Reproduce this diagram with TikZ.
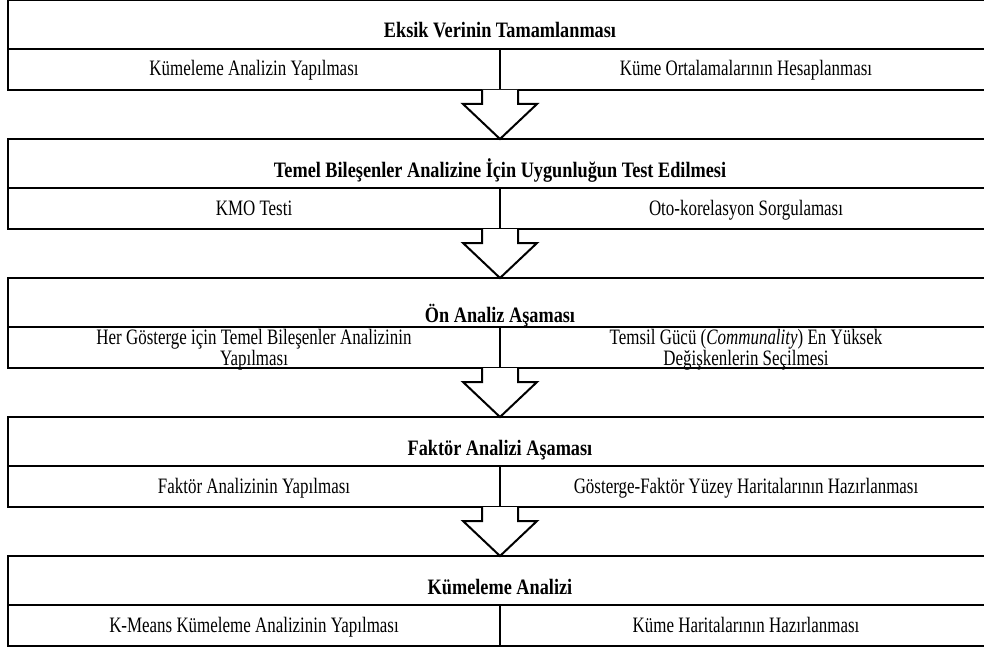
\documentclass[tikz,border=0pt]{standalone}
\usepackage{fontspec}
\setmainfont{Liberation Serif}[FakeStretch=0.77]
\newfontfamily\hdrfont{Liberation Serif}[FakeStretch=0.83]
\usetikzlibrary{calc}
\begin{document}
\begin{tikzpicture}[x=0.75pt,y=-0.75pt,
  stagebox/.style={draw=black,line width=1.8pt,minimum width=738pt,minimum height=67.5pt,inner sep=0pt,outer sep=0pt},
  divline/.style={draw=black,line width=1.2pt},
  hdr/.style={font=\hdrfont\bfseries\fontsize{16.5}{18}\selectfont,inner sep=0pt,anchor=base},
  cell/.style={font=\fontsize{16.5}{15}\selectfont,inner sep=0pt,anchor=base},
  cell2/.style={font=\fontsize{16.5}{15}\selectfont,align=center,inner sep=0pt},
  arrowline/.style={draw=black,line width=1.5pt,line join=miter,fill=white}]
\useasboundingbox (0,0) rectangle (984,649);
\clip (0,0) rectangle (984,649);
\newcommand\stagetext[8]{%
  \node[stagebox] (#1) at (500,#2+45) {};
  \draw[divline] ($(#1.north west)+(0,49)$) -- ($(#1.north east)+(0,49)$);
  \draw[divline] (#1.south) -- ++(0,-41);
  \node[hdr] (#1h) at (500,#2+#6) {#3};
  \node[#7] (#1l) at (254,#2+#8) {#4};
  \node[#7] (#1r) at (746,#2+#8) {#5};
}
\newcommand\blockarrow[2]{%
  \draw[arrowline] ($(#1.south)+(-18,0)$) -- ++(0,14) -- ++(-19,0) -- (#2.north)
    -- ($(#1.south)+(37,14)$) -- ++(-19,0) -- ++(0,-14);
}
\stagetext{s1}{0}{Eksik Verinin Tamamlanması}{Kümeleme Analizin Yapılması}{Küme Ortalamalarının Hesaplanması}{38}{cell}{76}
\stagetext{s2}{139}{Temel Bileşenler Analizine İçin Uygunluğun Test Edilmesi}{KMO Testi}{Oto-korelasyon Sorgulaması}{38}{cell}{76}
\stagetext{s3}{278}{Ön Analiz Aşaması}{Her Gösterge için Temel Bileşenler Analizinin\\Yapılması}{Temsil Gücü (\textit{Communality}) En Yüksek\\Değişkenlerin Seçilmesi}{44}{cell2}{72}
\stagetext{s4}{417}{Faktör Analizi Aşaması}{Faktör Analizinin Yapılması}{Gösterge-Faktör Yüzey Haritalarının Hazırlanması}{38}{cell}{76}
\stagetext{s5}{556}{Kümeleme Analizi}{K-Means Kümeleme Analizinin Yapılması}{Küme Haritalarının Hazırlanması}{38}{cell}{76}
\blockarrow{s1}{s2}
\blockarrow{s2}{s3}
\blockarrow{s3}{s4}
\blockarrow{s4}{s5}
\end{tikzpicture}
\end{document}
